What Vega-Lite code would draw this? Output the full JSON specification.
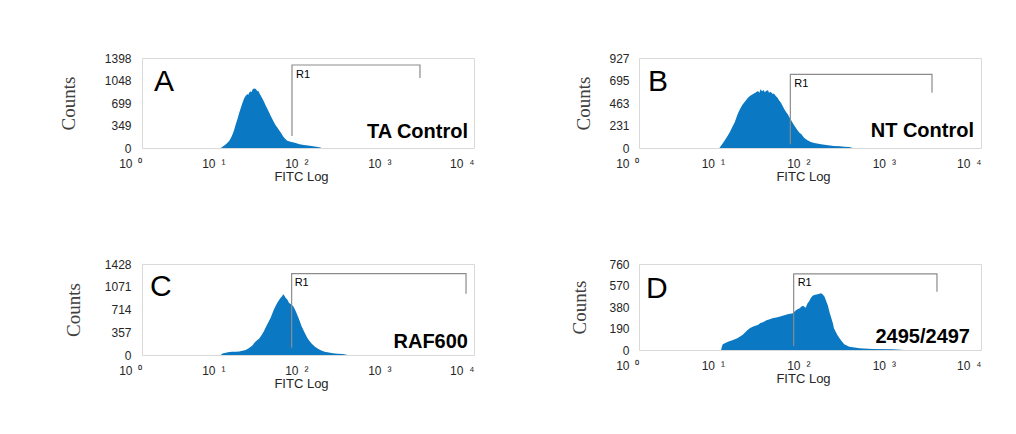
{
  "$schema": "https://vega.github.io/schema/vega-lite/v6.json",
  "padding": {"left": 58, "top": 51, "right": 5, "bottom": 5},
  "background": "white",
  "config": {
    "view": {"stroke": "#d9d9d9", "strokeWidth": 1},
    "font": "Liberation Sans",
    "axis": {
      "grid": false, "ticks": false, "domain": false, "labelOverlap": false, "format": "d", "tickCount": 10,
      "labelFont": "Liberation Sans", "labelFontSize": 12, "labelColor": "#262626",
      "titleFont": "Liberation Sans", "titleFontWeight": "normal", "titleColor": "#262626"
    }
  },
  "datasets": {
    "histA": [
      {"log":0.95,"count":0},{"log":0.97,"count":20},{"log":1.00,"count":45},{"log":1.03,"count":80},{"log":1.05,"count":110},
      {"log":1.07,"count":150},{"log":1.09,"count":210},{"log":1.11,"count":280},{"log":1.13,"count":370},{"log":1.15,"count":450},
      {"log":1.17,"count":540},{"log":1.19,"count":620},{"log":1.21,"count":700},{"log":1.23,"count":770},{"log":1.25,"count":810},
      {"log":1.27,"count":840},{"log":1.28,"count":825},{"log":1.29,"count":860},{"log":1.31,"count":880},{"log":1.32,"count":865},
      {"log":1.33,"count":905},{"log":1.35,"count":930},{"log":1.36,"count":915},{"log":1.37,"count":920},{"log":1.39,"count":880},
      {"log":1.40,"count":890},{"log":1.42,"count":840},{"log":1.43,"count":815},{"log":1.45,"count":770},{"log":1.47,"count":720},
      {"log":1.49,"count":660},{"log":1.51,"count":610},{"log":1.53,"count":555},{"log":1.55,"count":500},{"log":1.57,"count":450},
      {"log":1.59,"count":400},{"log":1.61,"count":355},{"log":1.63,"count":320},{"log":1.65,"count":280},{"log":1.67,"count":245},
      {"log":1.69,"count":200},{"log":1.71,"count":165},{"log":1.73,"count":135},{"log":1.75,"count":112},{"log":1.78,"count":100},
      {"log":1.80,"count":92},{"log":1.83,"count":85},{"log":1.86,"count":72},{"log":1.90,"count":60},{"log":1.95,"count":47},
      {"log":2.00,"count":38},{"log":2.04,"count":30},{"log":2.08,"count":22},{"log":2.12,"count":16},{"log":2.15,"count":8},
      {"log":2.16,"count":0}
    ],
    "histB": [
      {"log":0.94,"count":0},{"log":0.97,"count":35},{"log":1.00,"count":75},{"log":1.03,"count":115},{"log":1.06,"count":160},
      {"log":1.09,"count":215},{"log":1.12,"count":265},{"log":1.15,"count":340},{"log":1.17,"count":380},{"log":1.19,"count":415},
      {"log":1.21,"count":445},{"log":1.23,"count":468},{"log":1.25,"count":490},{"log":1.27,"count":512},{"log":1.29,"count":530},
      {"log":1.31,"count":543},{"log":1.33,"count":553},{"log":1.35,"count":563},{"log":1.37,"count":575},{"log":1.39,"count":587},
      {"log":1.41,"count":570},{"log":1.42,"count":604},{"log":1.44,"count":585},{"log":1.46,"count":598},{"log":1.47,"count":575},
      {"log":1.49,"count":590},{"log":1.51,"count":594},{"log":1.52,"count":568},{"log":1.54,"count":580},{"log":1.56,"count":560},
      {"log":1.58,"count":559},{"log":1.60,"count":535},{"log":1.62,"count":518},{"log":1.64,"count":490},{"log":1.66,"count":467},
      {"log":1.68,"count":432},{"log":1.70,"count":398},{"log":1.72,"count":372},{"log":1.74,"count":347},{"log":1.76,"count":315},
      {"log":1.78,"count":285},{"log":1.80,"count":255},{"log":1.82,"count":227},{"log":1.84,"count":200},{"log":1.86,"count":175},
      {"log":1.88,"count":155},{"log":1.90,"count":141},{"log":1.93,"count":106},{"log":1.97,"count":79},{"log":2.01,"count":62},
      {"log":2.05,"count":52},{"log":2.13,"count":38},{"log":2.21,"count":28},{"log":2.28,"count":21},{"log":2.35,"count":17},
      {"log":2.40,"count":14},{"log":2.46,"count":10},{"log":2.50,"count":0}
    ],
    "histC": [
      {"log":0.95,"count":0},{"log":0.97,"count":25},{"log":1.01,"count":36},{"log":1.05,"count":48},{"log":1.09,"count":52},
      {"log":1.13,"count":50},{"log":1.17,"count":56},{"log":1.21,"count":65},{"log":1.25,"count":80},{"log":1.29,"count":110},
      {"log":1.33,"count":150},{"log":1.36,"count":200},{"log":1.39,"count":235},{"log":1.41,"count":256},{"log":1.44,"count":310},
      {"log":1.47,"count":377},{"log":1.49,"count":430},{"log":1.51,"count":481},{"log":1.53,"count":535},{"log":1.55,"count":586},
      {"log":1.57,"count":650},{"log":1.59,"count":717},{"log":1.61,"count":770},{"log":1.63,"count":821},{"log":1.65,"count":860},
      {"log":1.67,"count":899},{"log":1.69,"count":925},{"log":1.70,"count":952},{"log":1.71,"count":940},{"log":1.73,"count":900},
      {"log":1.75,"count":870},{"log":1.77,"count":821},{"log":1.79,"count":800},{"log":1.82,"count":769},{"log":1.84,"count":720},
      {"log":1.86,"count":664},{"log":1.88,"count":600},{"log":1.90,"count":533},{"log":1.92,"count":460},{"log":1.94,"count":403},
      {"log":1.96,"count":350},{"log":1.98,"count":298},{"log":2.00,"count":250},{"log":2.04,"count":183},{"log":2.08,"count":135},
      {"log":2.12,"count":99},{"log":2.16,"count":70},{"log":2.20,"count":52},{"log":2.25,"count":38},{"log":2.30,"count":28},
      {"log":2.36,"count":20},{"log":2.42,"count":14},{"log":2.48,"count":0}
    ],
    "histD": [
      {"log":0.96,"count":0},{"log":0.97,"count":30},{"log":0.98,"count":50},{"log":1.04,"count":74},{"log":1.10,"count":88},
      {"log":1.15,"count":103},{"log":1.21,"count":133},{"log":1.27,"count":177},{"log":1.30,"count":195},{"log":1.33,"count":206},
      {"log":1.36,"count":215},{"log":1.39,"count":221},{"log":1.42,"count":238},{"log":1.45,"count":245},{"log":1.48,"count":258},
      {"log":1.50,"count":265},{"log":1.53,"count":272},{"log":1.56,"count":280},{"log":1.59,"count":285},{"log":1.62,"count":289},
      {"log":1.65,"count":296},{"log":1.68,"count":303},{"log":1.71,"count":310},{"log":1.74,"count":316},{"log":1.77,"count":320},
      {"log":1.80,"count":324},{"log":1.82,"count":340},{"log":1.84,"count":354},{"log":1.86,"count":362},{"log":1.88,"count":368},
      {"log":1.90,"count":385},{"log":1.92,"count":392},{"log":1.94,"count":378},{"log":1.95,"count":374},{"log":1.97,"count":410},
      {"log":1.99,"count":430},{"log":2.01,"count":460},{"log":2.03,"count":480},{"log":2.06,"count":488},{"log":2.09,"count":492},
      {"log":2.11,"count":498},{"log":2.13,"count":501},{"log":2.15,"count":490},{"log":2.17,"count":471},{"log":2.19,"count":430},
      {"log":2.21,"count":390},{"log":2.23,"count":330},{"log":2.25,"count":280},{"log":2.27,"count":230},{"log":2.28,"count":192},
      {"log":2.32,"count":133},{"log":2.36,"count":88},{"log":2.40,"count":50},{"log":2.46,"count":29},{"log":2.58,"count":15},
      {"log":2.73,"count":9},{"log":2.97,"count":6},{"log":3.10,"count":0}
    ],
    "gateA": [{"log":1.807,"count":186,"o":1},{"log":1.807,"count":1289,"o":2},{"log":3.349,"count":1289,"o":3},{"log":3.349,"count":1087,"o":4}],
    "gateB": [{"log":1.770,"count":38,"o":1},{"log":1.770,"count":759,"o":2},{"log":3.427,"count":759,"o":3},{"log":3.427,"count":570,"o":4}],
    "gateC": [{"log":1.803,"count":115,"o":1},{"log":1.803,"count":1276,"o":2},{"log":3.904,"count":1276,"o":3},{"log":3.904,"count":962,"o":4}],
    "gateD": [{"log":1.809,"count":35,"o":1},{"log":1.809,"count":672,"o":2},{"log":3.485,"count":672,"o":3},{"log":3.485,"count":515,"o":4}],
    "infoA": [{"letter":"A","sample":"TA Control","gate":"R1","gateX":1.807,"gateTop":1289}],
    "infoB": [{"letter":"B","sample":"NT Control","gate":"R1","gateX":1.770,"gateTop":759}],
    "infoC": [{"letter":"C","sample":"RAF600","gate":"R1","gateX":1.803,"gateTop":1276}],
    "infoD": [{"letter":"D","sample":"2495/2497","gate":"R1","gateX":1.809,"gateTop":672}]
  },
  "columns": 2,
  "bounds": "flush",
  "spacing": {"row": 116, "column": 165},
  "concat": [
    {
      "width": 332, "height": 90,
      "layer": [
        {
          "data": {"name": "histA"},
          "mark": {"type": "area", "color": "#0a78c3", "interpolate": "linear"},
          "encoding": {
            "x": {"field": "log", "type": "quantitative", "scale": {"domain": [0, 4], "nice": false},
              "axis": {"values": [0,1,2,3,4], "labelExpr": "'10\u2002' + ['⁰','¹','²','³','⁴'][datum.value]", "labelAlign": "right", "labelDx": 5, "labelBaseline": "top", "labelPadding": 10, "labelFlush": false, "labelOverlap": false, "title": "FITC Log", "titleFontSize": 13, "titlePadding": 1, "titleX": 159}},
            "y": {"field": "count", "type": "quantitative", "scale": {"domain": [0, 1398], "nice": false},
              "axis": {"values": [0,349,699,1048,1398], "tickCount": 10, "labelOverlap": false, "labelPadding": 11, "title": "Counts", "titleFont": "Liberation Serif", "titleFontSize": 19, "titleColor": "#404040", "titlePadding": 26}}
          }
        },
        {
          "data": {"name": "gateA"},
          "mark": {"type": "line", "color": "#8c8c8c", "strokeWidth": 1.2},
          "encoding": {"x": {"field": "log", "type": "quantitative"}, "y": {"field": "count", "type": "quantitative"}, "order": {"field": "o", "type": "quantitative"}}
        },
        {
          "data": {"name": "infoA"},
          "layer": [
            {"mark": {"type": "text", "align": "left", "baseline": "alphabetic", "dx": 12, "dy": 33, "fontSize": 30, "color": "#000000"},
             "encoding": {"x": {"datum": 0}, "y": {"datum": 1398}, "text": {"field": "letter"}}},
            {"mark": {"type": "text", "align": "right", "baseline": "alphabetic", "dx": -6, "dy": -10, "fontSize": 20, "fontWeight": "bold", "color": "#000000"},
             "encoding": {"x": {"datum": 4}, "y": {"datum": 0}, "text": {"field": "sample"}}},
            {"mark": {"type": "text", "align": "left", "baseline": "alphabetic", "dx": 4, "dy": 12.5, "fontSize": 11, "color": "#000000"},
             "encoding": {"x": {"field": "gateX", "type": "quantitative"}, "y": {"field": "gateTop", "type": "quantitative"}, "text": {"field": "gate"}}}
          ]
        }
      ]
    },
    {
      "width": 342, "height": 90,
      "layer": [
        {
          "data": {"name": "histB"},
          "mark": {"type": "area", "color": "#0a78c3", "interpolate": "linear"},
          "encoding": {
            "x": {"field": "log", "type": "quantitative", "scale": {"domain": [0, 4], "nice": false},
              "axis": {"values": [0,1,2,3,4], "labelExpr": "'10\u2002' + ['⁰','¹','²','³','⁴'][datum.value]", "labelAlign": "right", "labelDx": 5, "labelBaseline": "top", "labelPadding": 10, "labelFlush": false, "labelOverlap": false, "title": "FITC Log", "titleFontSize": 13, "titlePadding": 1, "titleX": 164}},
            "y": {"field": "count", "type": "quantitative", "scale": {"domain": [0, 927], "nice": false},
              "axis": {"values": [0,231,463,695,927], "tickCount": 10, "labelOverlap": false, "labelPadding": 10, "title": "Counts", "titleFont": "Liberation Serif", "titleFontSize": 19, "titleColor": "#404040", "titlePadding": 15}}
          }
        },
        {
          "data": {"name": "gateB"},
          "mark": {"type": "line", "color": "#8c8c8c", "strokeWidth": 1.2},
          "encoding": {"x": {"field": "log", "type": "quantitative"}, "y": {"field": "count", "type": "quantitative"}, "order": {"field": "o", "type": "quantitative"}}
        },
        {
          "data": {"name": "infoB"},
          "layer": [
            {"mark": {"type": "text", "align": "left", "baseline": "alphabetic", "dx": 9, "dy": 33, "fontSize": 30, "color": "#000000"},
             "encoding": {"x": {"datum": 0}, "y": {"datum": 927}, "text": {"field": "letter"}}},
            {"mark": {"type": "text", "align": "right", "baseline": "alphabetic", "dx": -7, "dy": -11, "fontSize": 20, "fontWeight": "bold", "color": "#000000"},
             "encoding": {"x": {"datum": 4}, "y": {"datum": 0}, "text": {"field": "sample"}}},
            {"mark": {"type": "text", "align": "left", "baseline": "alphabetic", "dx": 4, "dy": 12.5, "fontSize": 11, "color": "#000000"},
             "encoding": {"x": {"field": "gateX", "type": "quantitative"}, "y": {"field": "gateTop", "type": "quantitative"}, "text": {"field": "gate"}}}
          ]
        }
      ]
    },
    {
      "width": 332, "height": 91,
      "layer": [
        {
          "data": {"name": "histC"},
          "mark": {"type": "area", "color": "#0a78c3", "interpolate": "linear"},
          "encoding": {
            "x": {"field": "log", "type": "quantitative", "scale": {"domain": [0, 4], "nice": false},
              "axis": {"values": [0,1,2,3,4], "labelExpr": "'10\u2002' + ['⁰','¹','²','³','⁴'][datum.value]", "labelAlign": "right", "labelDx": 5, "labelBaseline": "top", "labelPadding": 10, "labelFlush": false, "labelOverlap": false, "title": "FITC Log", "titleFontSize": 13, "titlePadding": 1, "titleX": 159}},
            "y": {"field": "count", "type": "quantitative", "scale": {"domain": [0, 1428], "nice": false},
              "axis": {"values": [0,357,714,1071,1428], "tickCount": 10, "labelOverlap": false, "labelPadding": 11, "title": "Counts", "titleFont": "Liberation Serif", "titleFontSize": 19, "titleColor": "#404040", "titlePadding": 21}}
          }
        },
        {
          "data": {"name": "gateC"},
          "mark": {"type": "line", "color": "#8c8c8c", "strokeWidth": 1.2},
          "encoding": {"x": {"field": "log", "type": "quantitative"}, "y": {"field": "count", "type": "quantitative"}, "order": {"field": "o", "type": "quantitative"}}
        },
        {
          "data": {"name": "infoC"},
          "layer": [
            {"mark": {"type": "text", "align": "left", "baseline": "alphabetic", "dx": 8, "dy": 32, "fontSize": 30, "color": "#000000"},
             "encoding": {"x": {"datum": 0}, "y": {"datum": 1428}, "text": {"field": "letter"}}},
            {"mark": {"type": "text", "align": "right", "baseline": "alphabetic", "dx": -6, "dy": -7, "fontSize": 20, "fontWeight": "bold", "color": "#000000"},
             "encoding": {"x": {"datum": 4}, "y": {"datum": 0}, "text": {"field": "sample"}}},
            {"mark": {"type": "text", "align": "left", "baseline": "alphabetic", "dx": 3, "dy": 12.5, "fontSize": 11, "color": "#000000"},
             "encoding": {"x": {"field": "gateX", "type": "quantitative"}, "y": {"field": "gateTop", "type": "quantitative"}, "text": {"field": "gate"}}}
          ]
        }
      ]
    },
    {
      "width": 342, "height": 86,
      "layer": [
        {
          "data": {"name": "histD"},
          "mark": {"type": "area", "color": "#0a78c3", "interpolate": "linear"},
          "encoding": {
            "x": {"field": "log", "type": "quantitative", "scale": {"domain": [0, 4], "nice": false},
              "axis": {"values": [0,1,2,3,4], "labelExpr": "'10\u2002' + ['⁰','¹','²','³','⁴'][datum.value]", "labelAlign": "right", "labelDx": 5, "labelBaseline": "top", "labelPadding": 10, "labelFlush": false, "labelOverlap": false, "title": "FITC Log", "titleFontSize": 13, "titlePadding": 1, "titleX": 164}},
            "y": {"field": "count", "type": "quantitative", "scale": {"domain": [0, 760], "nice": false},
              "axis": {"values": [0,190,380,570,760], "tickCount": 10, "labelOverlap": false, "labelPadding": 10, "title": "Counts", "titleFont": "Liberation Serif", "titleFontSize": 19, "titleColor": "#404040", "titlePadding": 19}}
          }
        },
        {
          "data": {"name": "gateD"},
          "mark": {"type": "line", "color": "#8c8c8c", "strokeWidth": 1.2},
          "encoding": {"x": {"field": "log", "type": "quantitative"}, "y": {"field": "count", "type": "quantitative"}, "order": {"field": "o", "type": "quantitative"}}
        },
        {
          "data": {"name": "infoD"},
          "layer": [
            {"mark": {"type": "text", "align": "left", "baseline": "alphabetic", "dx": 7, "dy": 34, "fontSize": 30, "color": "#000000"},
             "encoding": {"x": {"datum": 0}, "y": {"datum": 760}, "text": {"field": "letter"}}},
            {"mark": {"type": "text", "align": "right", "baseline": "alphabetic", "dx": -11, "dy": -7, "fontSize": 20, "fontWeight": "bold", "color": "#000000"},
             "encoding": {"x": {"datum": 4}, "y": {"datum": 0}, "text": {"field": "sample"}}},
            {"mark": {"type": "text", "align": "left", "baseline": "alphabetic", "dx": 4, "dy": 12.5, "fontSize": 11, "color": "#000000"},
             "encoding": {"x": {"field": "gateX", "type": "quantitative"}, "y": {"field": "gateTop", "type": "quantitative"}, "text": {"field": "gate"}}}
          ]
        }
      ]
    }
  ]
}
